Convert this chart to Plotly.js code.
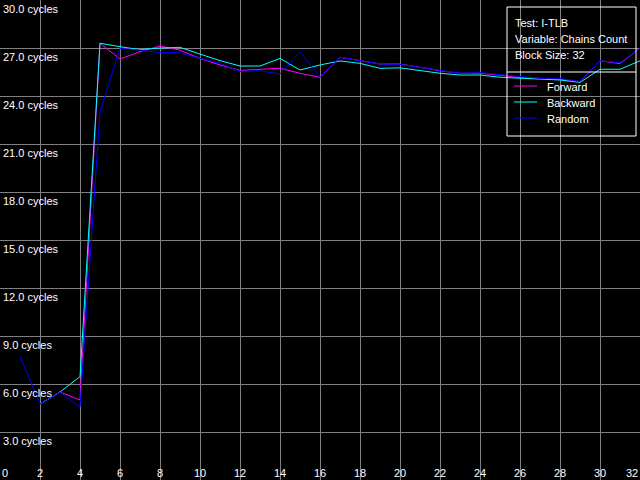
<!DOCTYPE html>
<html><head><meta charset="utf-8">
<script src="https://cdn.plot.ly/plotly-3.0.1.min.js"></script>
<style>html,body{margin:0;padding:0;background:#000;}#chart{width:640px;height:480px;}</style>
</head><body><div id="chart"></div>
<script>
// ---- data ----
const seriesNames = ['Forward', 'Backward', 'Random'];
const seriesColors = ['#ff00ff', '#00ffff', '#0000ff'];
const infoLines = ['Test: I-TLB', 'Variable: Chains Count', 'Block Size: 32'];

const xForward = [2,3,4,5,6,7,8,9,10,11,12,13,14,15,16,17,18,19,20,21,22,23,24,25,26,27,28,29,30,31,32];
const yForward = [4.75,5.5,5.0,27.3,26.31,26.77,27.12,26.87,26.35,25.94,25.6,25.67,25.73,25.42,25.17,26.42,26.21,26.0,26.0,25.79,25.58,25.42,25.42,25.3,25.15,25.1,25.05,24.9,26.2,26.02,27.0];

const xBackward = [2,3,4,5,6,7,8,9,10,11,12,13,14,15,16,17,18,19,20,21,22,23,24,25,26,27,28,29,30,31,32];
const yBackward = [4.75,5.5,6.46,27.3,27.08,26.9,27.0,27.04,26.62,26.21,25.875,25.875,26.35,25.625,25.94,26.19,26.04,25.73,25.76,25.58,25.42,25.31,25.31,25.17,25.1,25.04,25.0,24.85,25.67,25.67,26.2];

const xRandom = [1,2,3,4,5,6,7,8,9,10,11,12,13,14,15,16,17,18,19,20,21,22,23,24,25,26,27,28,29,30,31,32];
const yRandom = [7.75,4.75,5.5,4.56,23.0,26.98,26.87,26.71,26.71,26.35,26.04,25.54,25.58,25.375,26.77,25.15,26.42,26.21,26.0,25.98,25.79,25.58,25.42,25.46,25.35,25.2,25.1,25.1,24.9,26.2,26.08,26.98];

const xTickVals = [2,4,6,8,10,12,14,16,18,20,22,24,26,28,30];
const xTickText = ['2','4','6','8','10','12','14','16','18','20','22','24','26','28','30'];
const xEdgeVals = [0, 32];
const xEdgeText = ['0', '32'];
const yTickVals = [3,6,9,12,15,18,21,24,27,30];
const yTickText = ['3.0 cycles','6.0 cycles','9.0 cycles','12.0 cycles','15.0 cycles','18.0 cycles','21.0 cycles','24.0 cycles','27.0 cycles','30.0 cycles'];

// ---- chart ----
const W = 640, H = 480;
const FONT = 'Liberation Sans, Arial, sans-serif';
const xs = [xForward, xBackward, xRandom];
const ys = [yForward, yBackward, yRandom];
const traces = seriesNames.map((n, i) => ({
  type: 'scatter', mode: 'lines', name: n, x: xs[i], y: ys[i],
  line: {color: seriesColors[i], width: 1}, showlegend: false, hoverinfo: 'skip'
}));

const px = v => v / W, py = v => 1 - v / H;
const annotations = [];
const shapes = [];
// legend box
shapes.push({type: 'rect', xref: 'paper', yref: 'paper', x0: px(507), x1: px(636), y0: py(7), y1: py(136), line: {color: '#ffffff', width: 1}, fillcolor: 'rgba(0,0,0,0)'});
shapes.push({type: 'line', xref: 'paper', yref: 'paper', x0: px(507), x1: px(636), y0: py(72), y1: py(72), line: {color: '#ffffff', width: 1}});
infoLines.forEach((t, i) => annotations.push({xref: 'paper', yref: 'paper', x: px(513), y: py(23 + 16 * i), text: t, showarrow: false, xanchor: 'left', yanchor: 'middle', font: {family: FONT, size: 11, color: '#ffffff'}}));
seriesNames.forEach((n, i) => {
  const yy = 87 + 16 * i;
  shapes.push({type: 'line', xref: 'paper', yref: 'paper', x0: px(514), x1: px(537), y0: py(yy - 1), y1: py(yy - 1), line: {color: seriesColors[i], width: 1}});
  annotations.push({xref: 'paper', yref: 'paper', x: px(545), y: py(yy), text: n, showarrow: false, xanchor: 'left', yanchor: 'middle', font: {family: FONT, size: 11, color: '#ffffff'}});
});
// x edge labels
xEdgeVals.forEach((v, i) => annotations.push({xref: 'x', yref: 'paper', x: v, y: py(473), text: xEdgeText[i], showarrow: false, xanchor: i === 0 ? 'left' : 'right', yanchor: 'middle', font: {family: FONT, size: 11, color: '#ffffff'}}));

const layout = {
  width: W, height: H,
  margin: {l: 0, r: 0, t: 0, b: 0, pad: 0},
  paper_bgcolor: '#000000', plot_bgcolor: '#000000',
  showlegend: false,
  font: {family: FONT, size: 11, color: '#ffffff'},
  xaxis: {range: [0, 32], tickmode: 'array', tickvals: xTickVals, ticktext: xTickText,
    ticklabelposition: 'inside', ticklabeloverflow: 'allow', ticklabelstandoff: -2, ticks: '', showgrid: true, gridcolor: '#808080', gridwidth: 1,
    zeroline: false, showline: false, tickfont: {family: FONT, size: 11, color: '#ffffff'}, fixedrange: true},
  yaxis: {range: [0, 30], tickmode: 'array', tickvals: yTickVals, ticktext: yTickText,
    ticklabelposition: 'inside', ticklabeloverflow: 'allow', ticklabelshift: 9, ticks: '', showgrid: true, gridcolor: '#808080', gridwidth: 1,
    zeroline: false, showline: false, tickfont: {family: FONT, size: 11, color: '#ffffff'}, fixedrange: true},
  shapes: shapes, annotations: annotations
};
Plotly.newPlot('chart', traces, layout, {staticPlot: true, displayModeBar: false});
</script>
</body></html>
